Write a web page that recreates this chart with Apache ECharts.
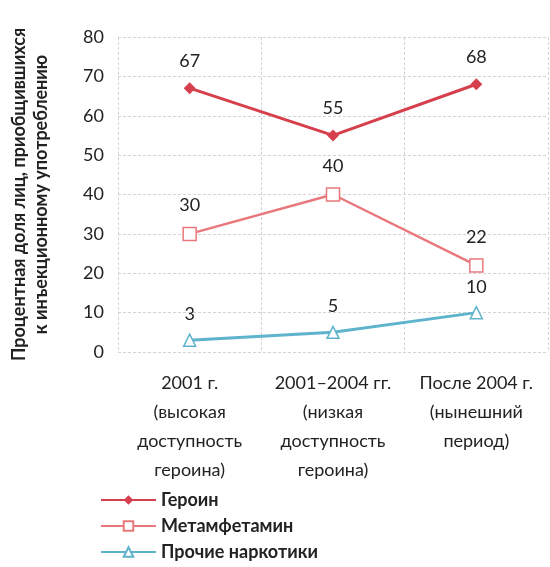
<!DOCTYPE html>
<html>
<head>
<meta charset="utf-8">
<script src="https://cdn.jsdelivr.net/npm/echarts@6/dist/echarts.min.js"></script>
<style>
  html, body { margin: 0; padding: 0; background: #ffffff; }
  #chart { width: 550px; height: 567px; }
</style>
</head>
<body>
<div id="chart"></div>
<script>
// данные с картинки
const categories = [
  '2001 г.\n(высокая\nдоступность\nгероина)',
  '2001–2004 гг.\n(низкая\nдоступность\nгероина)',
  'После 2004 г.\n(нынешний\nпериод)'
];
const heroin = [67, 55, 68];
const meth = [30, 40, 22];
const other = [3, 5, 10];

const font = 'Lato, "Open Sans", sans-serif';

const chart = echarts.init(document.getElementById('chart'));

const option = {
  backgroundColor: '#ffffff',
  animation: false,
  textStyle: { fontFamily: font },
  grid: { left: 110, right: 2, top: 37, bottom: 215 },
  legend: {
    orient: 'vertical',
    left: 95, top: 486,
    itemWidth: 55, itemHeight: 12, itemGap: 8,
    textStyle: { fontSize: 18, fontWeight: 'bold', color: '#222', fontFamily: font },
    data: ['Героин', 'Метамфетамин', 'Прочие наркотики']
  },
  xAxis: {
    type: 'category',
    data: categories,
    axisLine: { show: false },
    axisTick: { show: false },
    axisLabel: { color: '#222', fontSize: 18, lineHeight: 29, margin: 17, interval: 0, fontFamily: font },
    splitLine: { show: true, lineStyle: { color: '#d4d4d4', type: [3, 2] } }
  },
  yAxis: {
    type: 'value',
    min: 0, max: 80, interval: 10,
    name: 'Процентная доля лиц, приобщившихся\nк инъекционному употреблению',
    nameLocation: 'middle',
    nameRotate: 90,
    nameGap: 66,
    nameTextStyle: { fontSize: 18, fontWeight: 'bold', color: '#222', lineHeight: 22, fontFamily: font },
    axisLine: { show: false },
    axisTick: { show: false },
    axisLabel: { color: '#222', fontSize: 18, margin: 14, fontFamily: font },
    splitLine: { show: true, lineStyle: { color: '#d4d4d4', type: [3, 2] } }
  },
  series: [
    {
      name: 'Героин', type: 'line', data: heroin,
      symbol: 'diamond', symbolSize: 12,
      lineStyle: { color: '#d63f4c', width: 3 },
      itemStyle: { color: '#d63f4c' },
      label: { show: true, position: 'top', distance: 12, fontSize: 18, color: '#222', fontFamily: font }
    },
    {
      name: 'Метамфетамин', type: 'line', data: meth,
      symbol: 'rect', symbolSize: 13,
      lineStyle: { color: '#e9787c', width: 2.5 },
      itemStyle: { color: '#ffffff', borderColor: '#e9787c', borderWidth: 1.5 },
      label: { show: true, position: 'top', distance: 12, fontSize: 18, color: '#222', fontFamily: font }
    },
    {
      name: 'Прочие наркотики', type: 'line', data: other,
      symbol: 'triangle', symbolSize: 12,
      lineStyle: { color: '#5eb4cc', width: 3 },
      itemStyle: { color: '#ffffff', borderColor: '#5eb4cc', borderWidth: 1.5 },
      label: { show: true, position: 'top', distance: 10, fontSize: 18, color: '#222', fontFamily: font }
    }
  ]
};

chart.setOption(option);
</script>
</body>
</html>
